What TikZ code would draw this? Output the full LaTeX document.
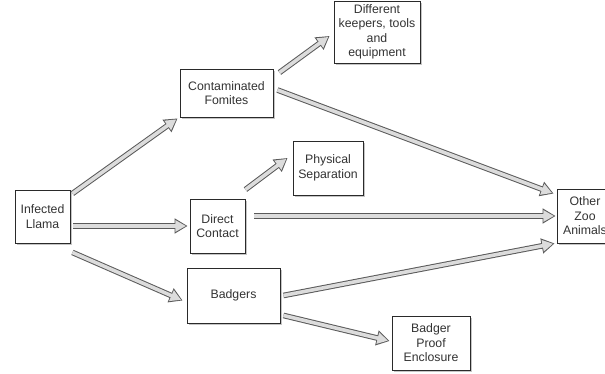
\documentclass[tikz,border=0pt]{standalone}
\usepackage{fontspec}
\setmainfont{Liberation Sans}
\usetikzlibrary{arrows.meta,shadows}
\definecolor{boxline}{HTML}{2A2A2A}
\definecolor{arrline}{HTML}{5A5A5A}
\definecolor{arrfill}{HTML}{DCDCDC}
\definecolor{txt}{HTML}{333333}
\tikzset{
  box/.style={draw=boxline, line width=0.9pt, fill=white, inner sep=0pt, align=center,
    text=txt, font=\fontsize{12.3}{14.5}\selectfont,
    drop shadow={opacity=0.45, shadow xshift=1.6pt, shadow yshift=-1.8pt}},
  fat/.style={line width=3.6pt, draw=arrfill, -{Triangle[length=10.5pt,width=11pt]}, shorten >=1.6pt,
    preaction={draw=arrline, line width=5.6pt, -{Triangle[length=13pt,width=14.5pt]}, shorten >=0pt}}
}
\begin{document}
\begin{tikzpicture}[x=1pt,y=-1pt]
\useasboundingbox[fill=white] (0,0) rectangle (605,374);
\node[box, minimum width=55pt, minimum height=53pt] (llama) at (42.5,216.5) {Infected\\Llama};
\node[box, minimum width=93pt, minimum height=48pt] (fom) at (226.5,93) {Contaminated\\Fomites};
\node[box, minimum width=86pt, minimum height=62pt] (keep) at (377,32) {Different\\keepers, tools\\and\\equipment};
\node[box, minimum width=70pt, minimum height=54pt] (phys) at (328,168) {Physical\\Separation};
\node[box, minimum width=55pt, minimum height=54pt] (direct) at (217.5,226) {Direct\\Contact};
\node[box, minimum width=93pt, minimum height=55pt] (badg) at (233.5,295.5) {Badgers};
\node[box, minimum width=78pt, minimum height=54pt] (encl) at (431,343) {Badger\\Proof\\Enclosure};
\node[box, minimum width=56pt, minimum height=54pt] (oza) at (585,216) {Other\\Zoo\\Animals};

\draw[fat] ([shift={(2,4)}]llama.north east) -- ([shift={(-2,1)}]fom.south west);
\draw[fat] ([xshift=3pt]llama.east |- direct.west) -- ([xshift=-2pt]direct.west);
\draw[fat] ([shift={(2,9)}]llama.south east) -- ([shift={(-4,5)}]badg.west);
\draw[fat] ([shift={(6,4)}]fom.north east) -- ([shift={(-4,4)}]keep.west);
\draw[fat] ([shift={(4,-3)}]fom.east) -- ([shift={(-3,5)}]oza.north west);
\draw[fat] ([shift={(0,-9)}]direct.north east) -- ([shift={(-5,-10)}]phys.west);
\draw[fat] ([xshift=9pt]direct.east |- oza.west) -- ([xshift=-1pt]oza.west);
\draw[fat] ([shift={(3,0)}]badg.east) -- ([shift={(-2,0)}]oza.south west);
\draw[fat] ([shift={(3,-8)}]badg.south east) -- ([shift={(-2,-2)}]encl.west);
\end{tikzpicture}
\end{document}
